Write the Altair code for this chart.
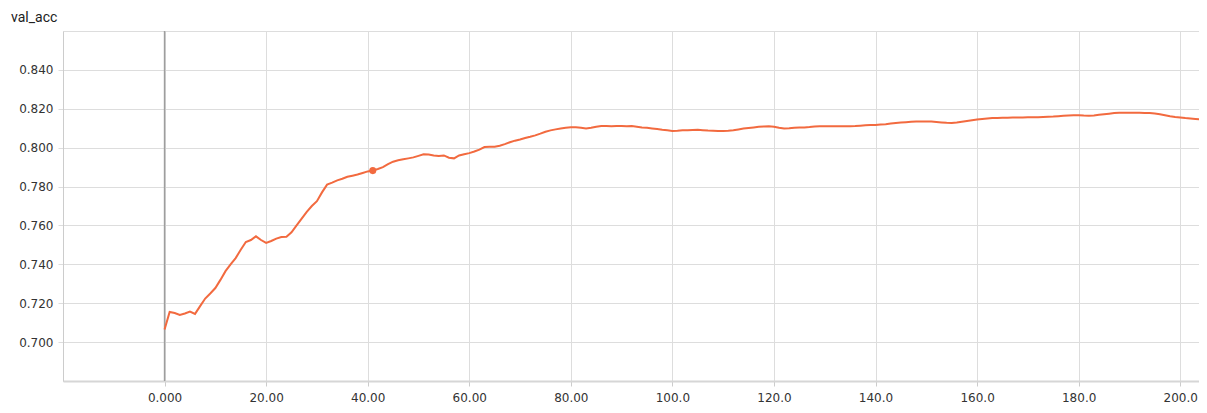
import altair as alt
import pandas as pd

epochs = list(range(0, 206))
val_acc = [
    0.7065, 0.7155, 0.7150, 0.7140, 0.7147, 0.7157, 0.7145, 0.7185, 0.7224, 0.7250,
    0.7278, 0.7320, 0.7365, 0.7400, 0.7432, 0.7475, 0.7515, 0.7525, 0.7544, 0.7525,
    0.7510, 0.7520, 0.7532, 0.7540, 0.7542, 0.7565, 0.7600, 0.7635, 0.7670, 0.7700,
    0.7725, 0.7770, 0.7810, 0.7820, 0.7832, 0.7840, 0.7850, 0.7856, 0.7862, 0.7870,
    0.7878, 0.7882, 0.7890, 0.7900, 0.7915, 0.7928, 0.7935, 0.7940, 0.7945, 0.7950,
    0.7958, 0.7966, 0.7965, 0.7960, 0.7957, 0.7960, 0.7948, 0.7945, 0.7960, 0.7966,
    0.7972, 0.7980, 0.7990, 0.8003, 0.8005, 0.8005, 0.8010, 0.8018, 0.8028, 0.8036,
    0.8042, 0.8050, 0.8056, 0.8063, 0.8072, 0.8082, 0.8089, 0.8094, 0.8099, 0.8102,
    0.8105, 0.8105, 0.8102, 0.8099, 0.8102, 0.8108, 0.8111, 0.8111, 0.8110, 0.8111,
    0.8112, 0.8110, 0.8111, 0.8108, 0.8104, 0.8102, 0.8099, 0.8096, 0.8092, 0.8089,
    0.8086, 0.8087, 0.8089, 0.8090, 0.8091, 0.8092, 0.8090, 0.8088, 0.8087, 0.8086,
    0.8086, 0.8087, 0.8090, 0.8094, 0.8098, 0.8101, 0.8104, 0.8107, 0.8109, 0.8110,
    0.8108, 0.8102, 0.8098, 0.8100, 0.8103, 0.8104, 0.8104, 0.8106, 0.8109, 0.8110,
    0.8110, 0.8110, 0.8110, 0.8110, 0.8110, 0.8110, 0.8111, 0.8113, 0.8115, 0.8116,
    0.8117, 0.8119, 0.8121, 0.8124, 0.8127, 0.8129, 0.8131, 0.8133, 0.8135, 0.8135,
    0.8135, 0.8134, 0.8132, 0.8130, 0.8128, 0.8127, 0.8129, 0.8133, 0.8137, 0.8141,
    0.8145, 0.8148, 0.8150, 0.8152, 0.8153, 0.8154, 0.8154, 0.8155, 0.8155, 0.8155,
    0.8156, 0.8156, 0.8157, 0.8158, 0.8159, 0.8160, 0.8162, 0.8164, 0.8166, 0.8167,
    0.8167, 0.8165, 0.8164, 0.8166, 0.8169, 0.8172, 0.8175, 0.8178, 0.8180, 0.8180,
    0.8180, 0.8180, 0.8179, 0.8178, 0.8178, 0.8176, 0.8172, 0.8167, 0.8162, 0.8158,
    0.8155, 0.8152, 0.8150, 0.8148, 0.8146, 0.8145,
]
marker_epoch = [41]
marker_value = [0.7882]
zero_line = [0]
x_ticks = [0, 20, 40, 60, 80, 100, 120, 140, 160, 180, 200]
y_ticks = [0.70, 0.72, 0.74, 0.76, 0.78, 0.80, 0.82, 0.84]

ORANGE = "#f26a3f"

df = pd.DataFrame({"step": epochs, "val_acc": val_acc})
mk = pd.DataFrame({"step": marker_epoch, "val_acc": marker_value})
zl = pd.DataFrame({"step": zero_line})

x_scale = alt.Scale(domain=[-20, 203.7], nice=False, zero=False)
y_scale = alt.Scale(domain=[0.68, 0.86], nice=False, zero=False)

x_axis = alt.Axis(
    values=x_ticks, title=None,
    labelExpr="datum.value == 0 ? '0.000' : format(datum.value, '.4r')",
    labelFont="DejaVu Sans", labelFontSize=12, labelColor="#333333",
    labelPadding=6, tickSize=5, tickColor="#cccccc",
    domainColor="#d6d6d6", domainWidth=2,
    grid=True, gridColor="#dddddd", gridWidth=1,
)
y_axis = alt.Axis(
    values=y_ticks, format=".3f", title=None,
    labelFont="DejaVu Sans", labelFontSize=12, labelColor="#333333",
    labelPadding=5, tickSize=5, tickColor="#dddddd",
    domainColor="#cccccc", domainWidth=1,
    grid=True, gridColor="#dddddd", gridWidth=1,
)

line = alt.Chart(df).mark_line(color=ORANGE, strokeWidth=2, interpolate="linear").encode(
    x=alt.X("step:Q", scale=x_scale, axis=x_axis),
    y=alt.Y("val_acc:Q", scale=y_scale, axis=y_axis),
)

zero = alt.Chart(zl).mark_rule(color="#9e9e9e", strokeWidth=1.5).encode(
    x=alt.X("step:Q", scale=x_scale),
)

point = alt.Chart(mk).mark_circle(color=ORANGE, size=50, opacity=1).encode(
    x=alt.X("step:Q", scale=x_scale),
    y=alt.Y("val_acc:Q", scale=y_scale),
)

chart = alt.layer(zero, line, point).properties(
    width=1136,
    height=350,
    title=alt.TitleParams(
        "val_acc", anchor="start", frame="group", font="Roboto", fontSize=14,
        fontWeight="normal", color="#212121", dx=-52, offset=5,
    ),
    padding={"left": 55, "top": 23, "right": 0, "bottom": 24},
    autosize=alt.AutoSizeParams(type="none"),
).configure_view(
    stroke=None
).configure(background="white")

chart.save("out.html", embed_options={"renderer": "svg", "actions": False})
